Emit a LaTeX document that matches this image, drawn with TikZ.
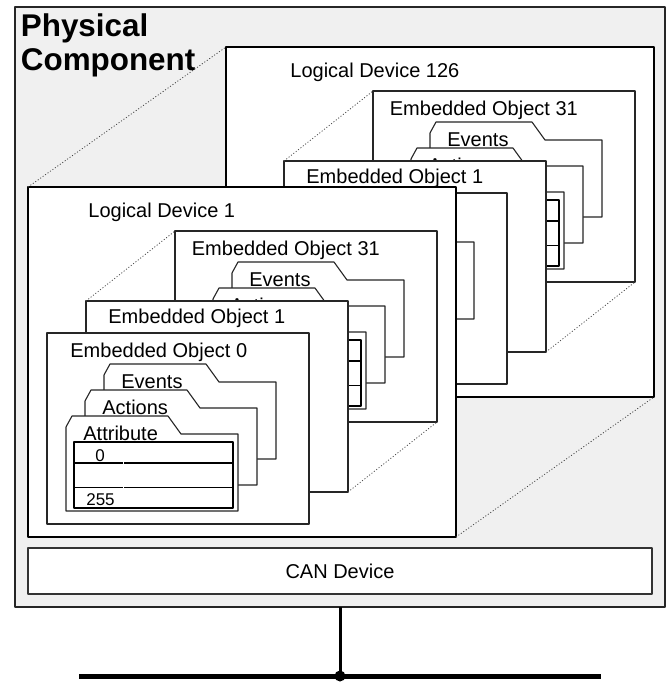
\documentclass[tikz,border=0pt]{standalone}
\usepackage{fontspec}
\setmainfont{Liberation Sans}
\usepackage{tikz}
\usetikzlibrary{calc}
\usetikzlibrary{positioning}

\tikzset{
  physbox/.style={draw=black!85, fill=black!6, line width=1pt, anchor=north west, inner sep=0, outer sep=0, minimum width=325pt, minimum height=300pt},
  ldbox/.style={draw=black, fill=white, line width=1pt, anchor=north west, inner sep=0, outer sep=0, minimum width=214pt, minimum height=175pt},
  eobox/.style={draw=black!85, fill=white, line width=0.6pt, anchor=north west, inner sep=0, outer sep=0, minimum width=131pt, minimum height=95.5pt},
  canbox/.style={draw=black!80, fill=white, line width=0.6pt, anchor=north west, inner sep=0, outer sep=0, minimum width=312pt, minimum height=23pt},
  lbl/.style={anchor=base west, inner sep=0},
  numlbl/.style={anchor=base, inner sep=0, font=\fontsize{8.5}{10}\selectfont},
  titlelbl/.style={anchor=base west, inner sep=0, font=\fontsize{15.7}{17}\selectfont\bfseries},
  link/.style={draw=black!75, line width=0.4pt, dash pattern=on 0.5pt off 1pt},
  folderline/.style={draw=black!85, fill=white, line width=0.55pt},
  bus/.style={line width=2.5pt},
  tapline/.style={line width=1.5pt},
  folder/.pic={
    \draw[folderline] (0,95) -- (0,11) -- (6,0) -- (102,0) -- (115,18) -- (172,18) -- (172,95) -- cycle;
  },
  attrgrid/.pic={
    \draw[line width=1pt] (8,26) rectangle (167,92);
    \draw[line width=1pt] (8,47) -- (167,47);
    \draw[line width=0.5pt] (8,71) -- (167,71);
    \draw[white, line width=0.4pt] (57,28) -- (57,90);
  },
}

\begin{document}
\begin{tikzpicture}[x=0.5pt, y=-0.5pt, font=\fontsize{10}{12}\selectfont, line join=round]
  \useasboundingbox (0,0) rectangle (669,682);
  %--- Physical component
    \node[physbox] (phys) at (15,7) {};
    \node[titlelbl] (title1) at (20.5,36) {Physical};
    \node[titlelbl] (title2) at (20.5,70) {Component};
  %--- Logical devices (126 behind, 1 in front)
    \foreach \ld/\dx/\dy/\lx in {126/198/-140/92, 1/0/0/88} {
      \begin{scope}[shift={(\dx,\dy)}]
        \node[ldbox] (ld\ld) at (28,187) {};
        \node[lbl] (ldlbl\ld) at (\lx,217) {Logical Device \ld};
        % embedded object 31
        \node[eobox] (eoA\ld) at (175,231) {};
        \node[lbl] (eoAlbl\ld) at (191.5,255) {Embedded Object 31};
        \pic at (232,262) {folder};
        \node[lbl] (evA\ld) at (249,286) {Events};
        \pic at (213,288) {folder};
        \node[lbl] (acA\ld) at (230,312) {Actions};
        \pic at (194,314) {folder};
        \pic at (194,314) {attrgrid};
        % embedded object 1
        \node[eobox] (eoB\ld) at (86,301) {};
        \node[lbl] (eoBlbl\ld) at (108,323.5) {Embedded Object 1};
        \draw[link] (eoB\ld.north west) -- (eoA\ld.north west);
        \draw[link] (eoB\ld.south east) -- (eoA\ld.south east);
        % embedded object 0
        \node[eobox] (eoC\ld) at (47,333) {};
        \pic at (104,364) {folder};
        \pic at (85,390) {folder};
        \pic at (66,416) {folder};
        \pic at (66,416) {attrgrid};
      \end{scope}
    }
  %--- Labels of the front object
    \node[lbl] (eoClbl) at (70,357) {Embedded Object 0};
    \node[lbl] (evC) at (121,388) {Events};
    \node[lbl] (acC) at (102,414) {Actions};
    \node[lbl] (atC) at (83,440) {Attribute};
    \node[numlbl] (first) at (100,461) {0};
    \node[numlbl] (last) at (100.5,505) {255};
  %--- Depth lines
    \draw[link] (ld1.north west) -- (ld126.north west);
    \draw[link] (ld1.south east) -- (ld126.south east);
  %--- CAN device and bus
    \node[canbox] (can) at (28,548) {CAN Device};
    \coordinate (busL) at (79,676);
    \coordinate (busR) at (601,676);
    \draw[bus] (busL) -- (busR);
    \node[circle, fill, inner sep=0, minimum size=5.5pt] (tap) at (340,676) {};
    \draw[tapline] (phys.south) -- (tap.center);
  %---
\end{tikzpicture}
\end{document}
